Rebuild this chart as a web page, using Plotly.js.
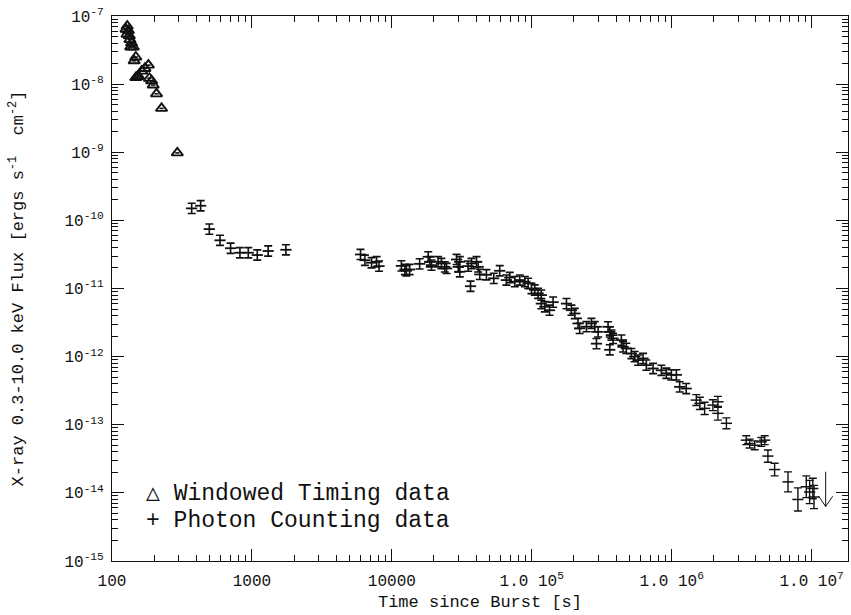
<!DOCTYPE html>
<html><head><meta charset="utf-8">
<script src="https://cdn.plot.ly/plotly-3.0.1.min.js"></script>
<style>html,body{margin:0;padding:0;background:#fff}#chart{width:851px;height:615px}</style>
</head><body><div id="chart"></div>
<script>
// Windowed Timing data (triangles)
const wtTime = [126, 128.5, 131, 128, 133, 134.5, 138, 136, 142, 148, 144, 152, 148, 155, 163, 172, 182, 185, 192, 197, 208, 226, 293];
const wtFlux = [6.4e-8, 7.1e-8, 6.1e-8, 5.4e-8, 5.1e-8, 4.5e-8, 4.0e-8, 3.5e-8, 3.5e-8, 2.5e-8, 2.2e-8, 1.29e-8, 1.25e-8, 1.3e-8, 1.55e-8, 1.7e-8, 1.9e-8, 1.22e-8, 1.12e-8, 9.7e-9, 7.2e-9, 4.4e-9, 9.8e-10];

// Photon Counting data
const pcTime = [371, 430, 496, 591, 704, 821, 942, 1092, 1307, 1750,
  5970, 6420, 7160, 7780, 8100, 11700, 12400, 13400, 12700, 15800,
  18200, 18700, 19200, 21400, 22600, 23900, 24600, 29000, 30600, 29800, 30600,
  35100, 37100, 40300, 41400, 36500, 42500, 47400, 53500, 59000,
  65900, 69600, 75600, 82100, 89200, 94200, 99500, 105000, 111000, 117000,
  117000, 124000, 134000, 142000, 177000, 192000, 203000, 214000, 220000, 246000,
  267000, 282000, 298000, 290000, 351000, 361000, 371000, 381000, 361000,
  437000, 449000, 474000, 515000, 544000, 575000, 624000,
  659000, 736000, 844000, 916000, 995000, 1080000, 1140000, 1270000];
const pcFlux = [1.5e-10, 1.64e-10, 7.45e-11, 5.1e-11, 3.9e-11, 3.35e-11, 3.35e-11, 3.1e-11, 3.55e-11, 3.7e-11,
  3.16e-11, 2.6e-11, 2.39e-11, 2.47e-11, 2.13e-11, 2.15e-11, 1.9e-11, 1.9e-11, 1.82e-11, 2.3e-11,
  2.92e-11, 2.47e-11, 2.2e-11, 2.47e-11, 2.33e-11, 2.08e-11, 1.97e-11, 2.67e-11, 2.47e-11, 2.08e-11, 1.76e-11,
  2.13e-11, 2.33e-11, 2.47e-11, 2.08e-11, 1.08e-11, 1.61e-11, 1.59e-11, 1.41e-11, 1.82e-11,
  1.33e-11, 1.45e-11, 1.26e-11, 1.33e-11, 1.26e-11, 1.19e-11, 1.0e-11, 9.5e-12, 8.5e-12, 8.0e-12,
  6.0e-12, 5.4e-12, 4.8e-12, 6.3e-12, 6.0e-12, 4.8e-12, 4.3e-12, 3.07e-12, 2.6e-12, 2.75e-12,
  3.07e-12, 2.75e-12, 2.31e-12, 1.55e-12, 2.74e-12, 2.31e-12, 2.07e-12, 1.85e-12, 1.26e-12,
  1.75e-12, 1.39e-12, 1.32e-12, 1.11e-12, 1.0e-12, 8.9e-13, 9.4e-13,
  7.5e-13, 6.7e-13, 6.3e-13, 5.7e-13, 5.4e-13, 5.4e-13, 3.6e-13, 3.4e-13];

// Late Photon Counting points (larger error bars, half-width in dex)
const pcLateTime = [1500000, 1590000, 1720000, 1970000, 2140000, 2140000, 2460000,
  3410000, 3610000, 3920000, 4370000, 4620000, 4870000, 5440000, 6780000, 7980000, 9160000, 9680000, 10200000, 10400000];
const pcLateFlux = [2.3e-13, 2.06e-13, 1.74e-13, 1.94e-13, 2.17e-13, 1.47e-13, 1.05e-13,
  5.94e-14, 5.3e-14, 5.0e-14, 5.6e-14, 5.94e-14, 3.47e-14, 2.2e-14, 1.45e-14, 8.0e-15, 1.23e-14, 1.03e-14, 1.16e-14, 8.7e-15];
const pcLateErrDex = [0.08, 0.09, 0.09, 0.08, 0.08, 0.1, 0.08,
  0.065, 0.065, 0.065, 0.065, 0.065, 0.09, 0.093, 0.147, 0.17, 0.16, 0.17, 0.15, 0.17];

// Upper limit
const ulTime = [1.26e7];
const ulFlux = [2.04e-14];

const xTickVals = [100, 1000, 10000, 1e5, 1e6, 1e7];
const xTickText = ['100', '1000', '10000', '1.0 10<sup>5</sup>', '1.0 10<sup>6</sup>', '1.0 10<sup>7</sup>'];
const yTickVals = [1e-15, 1e-14, 1e-13, 1e-12, 1e-11, 1e-10, 1e-9, 1e-8, 1e-7];
const yTickText = ['10<sup>-15</sup>', '10<sup>-14</sup>', '10<sup>-13</sup>', '10<sup>-12</sup>', '10<sup>-11</sup>', '10<sup>-10</sup>', '10<sup>-9</sup>', '10<sup>-8</sup>', '10<sup>-7</sup>'];

// ----- styling helpers -----
const FONT = 'Liberation Mono, DejaVu Sans Mono, monospace';
const INK = '#111';
const XERR_DEX = 0.04, YERR_DEX = 0.075;
const up = (v, d) => v.map(a => a * (Math.pow(10, d) - 1));
const dn = (v, d) => v.map(a => a * (1 - Math.pow(10, -d)));

const xMinor = [], yMinor = [];
for (let d = 2; d <= 7; d++) for (let k = 2; k <= 9; k++) xMinor.push(k * Math.pow(10, d));
for (let d = -15; d <= -8; d++) for (let k = 2; k <= 9; k++) yMinor.push(k * Math.pow(10, d));

const traces = [
  {
    x: wtTime, y: wtFlux, type: 'scatter', mode: 'markers', name: 'Windowed Timing data',
    marker: {symbol: 'triangle-up-open', size: 10, color: INK, line: {width: 1.9, color: INK}},
    error_x: {type: 'data', symmetric: false, array: up(wtTime, 0.015), arrayminus: dn(wtTime, 0.015), width: 0, thickness: 1.6, color: INK},
    hoverinfo: 'skip'
  },
  {
    x: pcTime, y: pcFlux, type: 'scatter', mode: 'markers', name: 'Photon Counting data',
    marker: {size: 1, color: INK},
    error_x: {type: 'data', symmetric: false, array: up(pcTime, XERR_DEX), arrayminus: dn(pcTime, XERR_DEX), width: 0, thickness: 1.8, color: INK},
    error_y: {type: 'data', symmetric: false, array: up(pcFlux, YERR_DEX), arrayminus: dn(pcFlux, YERR_DEX), width: 4, thickness: 1.6, color: INK},
    hoverinfo: 'skip'
  },
  {
    x: pcLateTime, y: pcLateFlux, type: 'scatter', mode: 'markers', name: 'Photon Counting data (late)',
    marker: {size: 1, color: INK},
    error_x: {type: 'data', symmetric: false, array: up(pcLateTime, XERR_DEX), arrayminus: dn(pcLateTime, XERR_DEX), width: 0, thickness: 1.5, color: INK},
    error_y: {type: 'data', symmetric: false,
      array: pcLateFlux.map((f, i) => f * (Math.pow(10, pcLateErrDex[i]) - 1)),
      arrayminus: pcLateFlux.map((f, i) => f * (1 - Math.pow(10, -pcLateErrDex[i]))),
      width: 4, thickness: 1.4, color: INK},
    hoverinfo: 'skip'
  }
];

// upper-limit arrow built from the data point
const UL_LEN = 0.51, HEAD_W = 0.05, HEAD_H = 0.15;
ulTime.forEach((t, i) => {
  const f0 = ulFlux[i], f1 = f0 * Math.pow(10, -UL_LEN);
  traces.push({x: [t, t], y: [f0, f1], type: 'scatter', mode: 'lines', line: {color: INK, width: 1}, hoverinfo: 'skip'});
  traces.push({x: [t * Math.pow(10, -HEAD_W), t, t * Math.pow(10, HEAD_W)], y: [f1 * Math.pow(10, HEAD_H), f1, f1 * Math.pow(10, HEAD_H)],
    type: 'scatter', mode: 'lines', line: {color: INK, width: 1}, hoverinfo: 'skip'});
});

const axisCommon = {
  type: 'log', tickmode: 'array', ticks: 'inside', ticklen: 12, tickwidth: 1, tickcolor: INK,
  mirror: 'allticks', showline: true, linecolor: INK, linewidth: 1, showgrid: false, zeroline: false,
  tickfont: {family: FONT, size: 16, color: INK}
};

const layout = {
  width: 851, height: 615,
  margin: {l: 112, r: 3, t: 16, b: 54},
  paper_bgcolor: '#fff', plot_bgcolor: '#fff',
  showlegend: false,
  font: {family: FONT, color: INK},
  xaxis: Object.assign({}, axisCommon, {
    range: [2, 7.26], tickvals: xTickVals, ticktext: xTickText,
    minor: {tickmode: 'array', tickvals: xMinor, ticks: 'inside', ticklen: 6, tickcolor: INK, showgrid: false},
    ticklabelstandoff: 5,
    title: {text: 'Time since Burst [s]', font: {family: FONT, size: 17, color: INK}, standoff: 4}
  }),
  yaxis: Object.assign({}, axisCommon, {
    range: [-15, -7], tickvals: yTickVals, ticktext: yTickText,
    minor: {tickmode: 'array', tickvals: yMinor, ticks: 'inside', ticklen: 6, tickcolor: INK, showgrid: false},
    ticklabelstandoff: 4,
    title: {text: 'X-ray 0.3-10.0 keV Flux [ergs s<sup>-1</sup>  cm<sup>-2</sup>]', font: {family: FONT, size: 17, color: INK}, standoff: 36}
  }),
  annotations: [
    {xref: 'paper', yref: 'paper', x: 0.043, y: 0.123, xanchor: 'left', yanchor: 'middle', showarrow: false,
     text: '\u25B3 Windowed Timing data', font: {family: FONT, size: 23, color: INK}},
    {xref: 'paper', yref: 'paper', x: 0.043, y: 0.073, xanchor: 'left', yanchor: 'middle', showarrow: false,
     text: '+ Photon Counting data', font: {family: FONT, size: 23, color: INK}}
  ]
};

Plotly.newPlot('chart', traces, layout, {staticPlot: true, displayModeBar: false});
</script>
</body></html>
